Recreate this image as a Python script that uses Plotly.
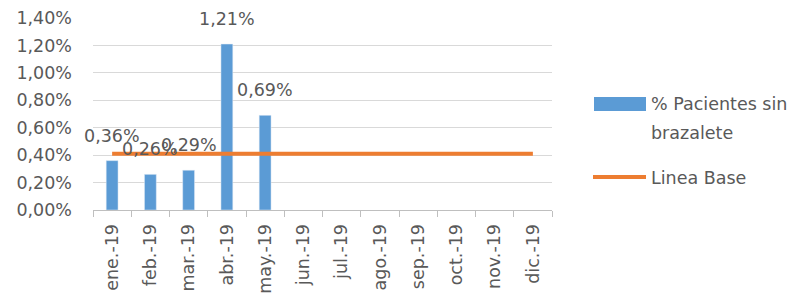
import plotly.graph_objects as go

months = ["ene.-19", "feb.-19", "mar.-19", "abr.-19", "may.-19", "jun.-19",
          "jul.-19", "ago.-19", "sep.-19", "oct.-19", "nov.-19", "dic.-19"]
pct_sin_brazalete = [0.0036, 0.0026, 0.0029, 0.0121, 0.0069, None,
                     None, None, None, None, None, None]
linea_base = [0.0041] * 12
y_ticks = [0, 0.002, 0.004, 0.006, 0.008, 0.010, 0.012, 0.014]

BLUE = "#5b9bd5"
ORANGE = "#ed7d31"
TXT = "#595959"
FONT = "DejaVu Sans"
FS = 17.5

L, R, T, B = 93, 250, 18, 90
W = 802 - L - R
H = 300 - T - B

def px(x):
    return (x - L) / W

def py(y):
    return (300 - B - y) / H

fig = go.Figure()
fig.add_trace(go.Bar(x=months, y=pct_sin_brazalete, marker_color=BLUE,
                     name="% Pacientes sin brazalete", showlegend=False))
fig.add_trace(go.Scatter(x=months, y=linea_base, mode="lines",
                         line=dict(color=ORANGE, width=4),
                         name="Linea Base", showlegend=False))

annotations = []
for m, v in zip(months, pct_sin_brazalete):
    if v is not None:
        annotations.append(dict(x=m, y=v, text=f"{v*100:.2f}%".replace(".", ","),
                                showarrow=False, yshift=25,
                                font=dict(size=FS, color=TXT, family=FONT)))

# custom legend
shapes = [
    dict(type="rect", xref="paper", yref="paper",
         x0=px(594), x1=px(646), y0=py(111), y1=py(97),
         fillcolor=BLUE, line=dict(width=0)),
    dict(type="line", xref="paper", yref="paper",
         x0=px(593), x1=px(646), y0=py(177), y1=py(177),
         line=dict(color=ORANGE, width=4)),
]
for txt, yy in [("% Pacientes sin", 104), ("brazalete", 133), ("Linea Base", 178)]:
    annotations.append(dict(xref="paper", yref="paper", x=px(649), y=py(yy),
                            xanchor="left", yanchor="middle", showarrow=False,
                            text=txt, font=dict(size=FS, color=TXT, family=FONT)))

fig.update_layout(
    width=802, height=300,
    margin=dict(l=L, r=R, t=T, b=B, pad=0, autoexpand=False),
    paper_bgcolor="white", plot_bgcolor="white",
    separators=",.",
    bargap=0.69,
    font=dict(family=FONT, size=FS, color=TXT),
    shapes=shapes,
    annotations=annotations,
    xaxis=dict(type="category", range=[-0.5, len(months) - 0.5],
               tickangle=-90, tickson="boundaries",
               ticks="outside", ticklen=6, tickcolor="#bfbfbf",
               showline=True, linecolor="#bfbfbf", linewidth=1,
               showgrid=False, automargin=False, ticklabelstandoff=6,
               tickfont=dict(size=FS, color=TXT, family=FONT)),
    yaxis=dict(range=[0, 0.014], tickvals=y_ticks, tickformat=".2%",
               showgrid=True, gridcolor="#d9d9d9", gridwidth=1,
               zeroline=False, showline=False, ticks="",
               automargin=False, ticklabelstandoff=20,
               tickfont=dict(size=FS, color=TXT, family=FONT)),
)

fig.write_html("out.html", config={"displayModeBar": False},
               post_script="document.body.style.margin='0';")
